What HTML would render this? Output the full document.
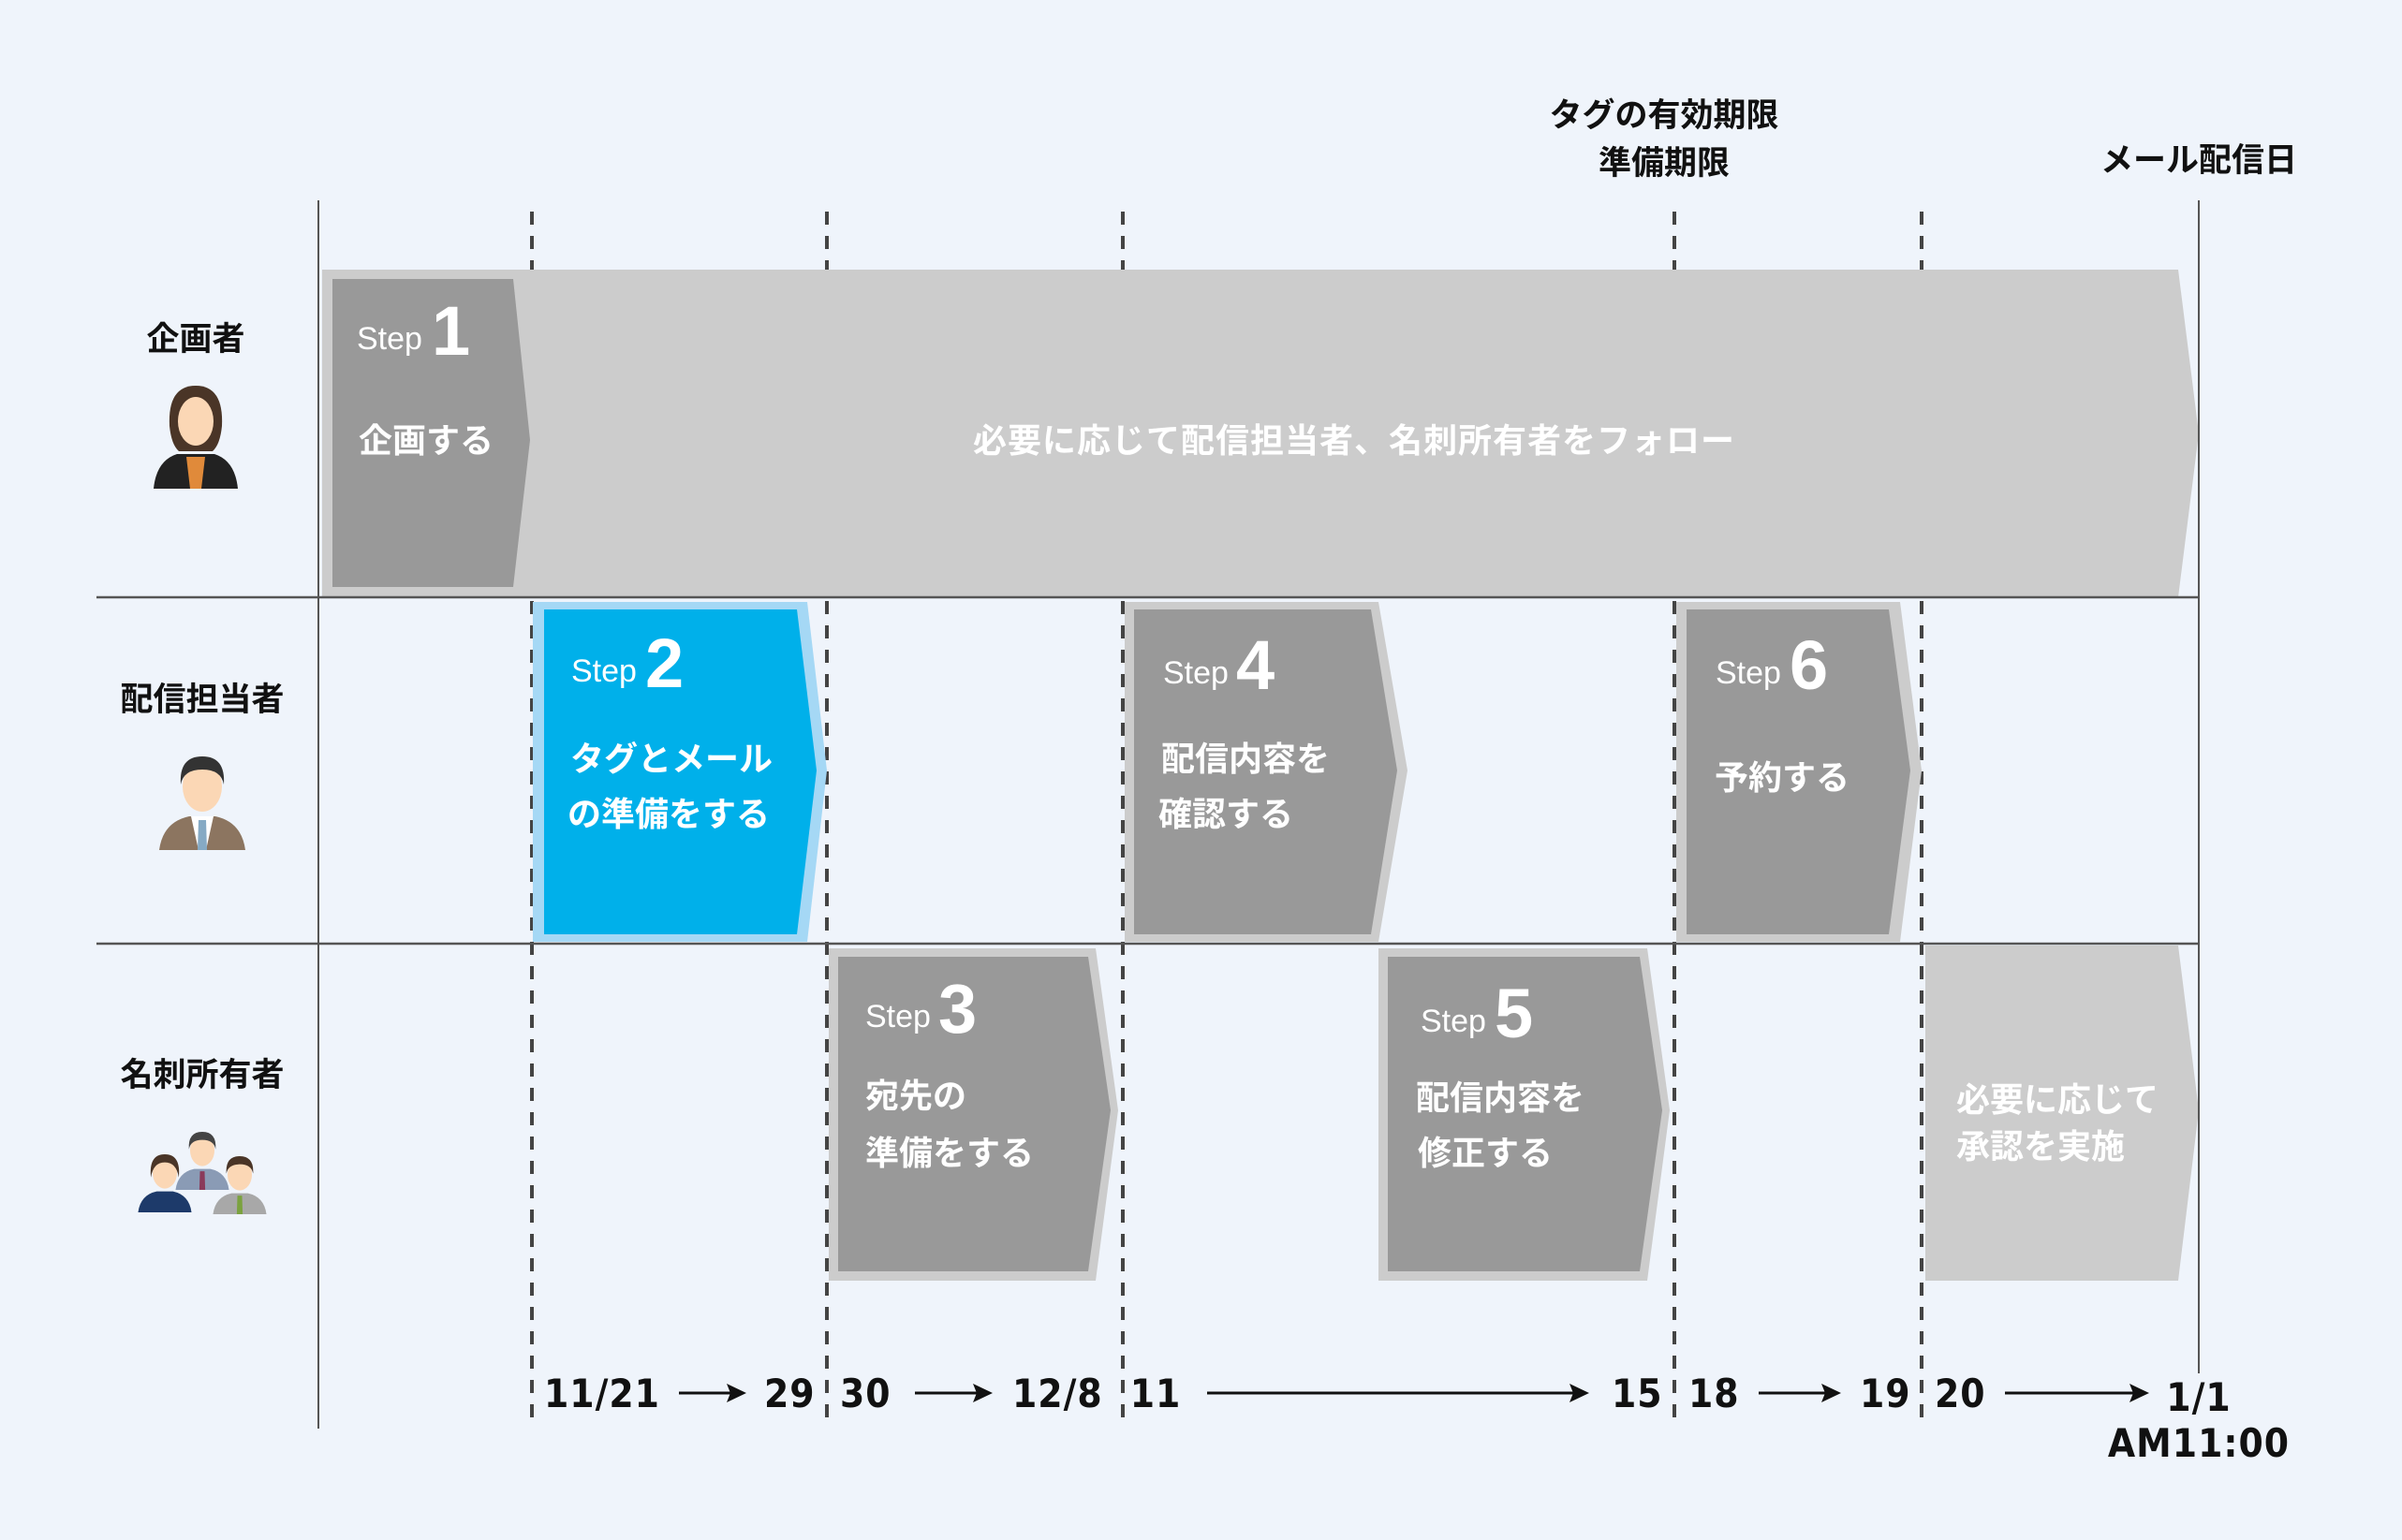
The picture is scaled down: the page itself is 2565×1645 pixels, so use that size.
<!DOCTYPE html>
<html><head><meta charset="utf-8">
<style>
html,body{margin:0;padding:0;background:#eff4fb;}
svg{display:block;}
.jp{font-family:"Liberation Sans","Noto Sans CJK JP",sans-serif;font-weight:bold;}
.w{fill:#fff;}
.st{font-family:"Liberation Sans",sans-serif;font-weight:normal;font-size:34px;fill:#fff;}
.num{font-family:"Liberation Sans",sans-serif;font-weight:bold;font-size:74px;fill:#fff;}
.dt{font-family:"DejaVu Sans Condensed","DejaVu Sans","Liberation Sans",sans-serif;font-weight:bold;font-size:42px;fill:#111;letter-spacing:1px;}
</style></head><body>
<svg width="2565" height="1645" viewBox="0 0 2565 1645" xmlns="http://www.w3.org/2000/svg">
<rect width="2565" height="1645" fill="#eff4fb"/>

<!-- dashed lines (behind shapes) -->
<g stroke="#444" stroke-width="4" stroke-dasharray="14,12">
<line x1="568" y1="226" x2="568" y2="1526"/>
<line x1="883" y1="226" x2="883" y2="1526"/>
<line x1="1199" y1="226" x2="1199" y2="1526"/>
<line x1="1788" y1="226" x2="1788" y2="1526"/>
<line x1="2052" y1="226" x2="2052" y2="1526"/>
</g>

<!-- row1 big arrow -->
<polygon points="344,288 2326,288 2348,463 2326,638 344,638" fill="#cccccc"/>
<polygon points="355,298 548,298 566,470 548,627 355,627" fill="#999999"/>
<text x="381" y="373" class="st">Step</text><text x="461" y="379" class="num">1</text>
<text x="383" y="483" class="jp w" font-size="36">企画する</text>
<text x="1446" y="483" class="jp w" font-size="36" text-anchor="middle" letter-spacing="1">必要に応じて配信担当者、名刺所有者をフォロー</text>

<!-- Step2 -->
<polygon points="569,643 862,643 883,823 862,1006 569,1006" fill="#a5d8f5"/>
<polygon points="581,651 851,651 872,823 851,998 581,998" fill="#00b0ea"/>
<text x="610" y="728" class="st">Step</text><text x="689" y="734" class="num">2</text>
<text x="609" y="823" class="jp w" font-size="36">タグとメール</text>
<text x="606" y="882" class="jp w" font-size="36">の準備をする</text>

<!-- Step4 -->
<polygon points="1201,643 1472,643 1503,823 1472,1006 1201,1006" fill="#cccccc"/>
<polygon points="1211,651 1464,651 1492,823 1464,998 1211,998" fill="#999999"/>
<text x="1242" y="730" class="st">Step</text><text x="1320" y="736" class="num">4</text>
<text x="1240" y="823" class="jp w" font-size="36">配信内容を</text>
<text x="1237" y="882" class="jp w" font-size="36">確認する</text>

<!-- Step6 -->
<polygon points="1790,643 2029,643 2052,823 2029,1006 1790,1006" fill="#cccccc"/>
<polygon points="1801,651 2017,651 2040,823 2017,998 1801,998" fill="#999999"/>
<text x="1832" y="730" class="st">Step</text><text x="1911" y="736" class="num">6</text>
<text x="1831" y="843" class="jp w" font-size="36">予約する</text>

<!-- Step3 -->
<polygon points="885,1013 1170,1013 1194,1186 1170,1368 885,1368" fill="#cccccc"/>
<polygon points="895,1022 1162,1022 1186,1186 1162,1358 895,1358" fill="#999999"/>
<text x="924" y="1097" class="st">Step</text><text x="1002" y="1103" class="num">3</text>
<text x="924" y="1183" class="jp w" font-size="36">宛先の</text>
<text x="924" y="1244" class="jp w" font-size="36">準備をする</text>

<!-- Step5 -->
<polygon points="1472,1013 1759,1013 1783,1186 1759,1368 1472,1368" fill="#cccccc"/>
<polygon points="1482,1022 1751,1022 1775,1186 1751,1358 1482,1358" fill="#999999"/>
<text x="1517" y="1102" class="st">Step</text><text x="1596" y="1108" class="num">5</text>
<text x="1512" y="1185" class="jp w" font-size="36">配信内容を</text>
<text x="1514" y="1244" class="jp w" font-size="36">修正する</text>

<!-- final -->
<polygon points="2056,1010 2326,1010 2348,1186 2326,1368 2056,1368" fill="#cccccc"/>
<text x="2089" y="1187" class="jp w" font-size="36">必要に応じて</text>
<text x="2089" y="1237" class="jp w" font-size="36">承認を実施</text>

<!-- grid lines -->
<line x1="340" y1="214" x2="340" y2="1526" stroke="#555" stroke-width="2"/>
<line x1="2348" y1="214" x2="2348" y2="1467" stroke="#555" stroke-width="2"/>
<line x1="103" y1="638" x2="2348" y2="638" stroke="#555" stroke-width="2.5"/>
<line x1="103" y1="1008" x2="2348" y2="1008" stroke="#555" stroke-width="2.5"/>

<!-- headers -->
<text x="1777" y="135" class="jp" font-size="35" text-anchor="middle" fill="#111">タグの有効期限</text>
<text x="1777" y="186" class="jp" font-size="35" text-anchor="middle" fill="#111">準備期限</text>
<text x="2348" y="183" class="jp" font-size="35" text-anchor="middle" fill="#111">メール配信日</text>

<!-- lane labels -->
<text x="209" y="374" class="jp" font-size="35" text-anchor="middle" fill="#111">企画者</text>
<text x="216" y="759" class="jp" font-size="35" text-anchor="middle" fill="#111">配信担当者</text>
<text x="216" y="1160" class="jp" font-size="35" text-anchor="middle" fill="#111">名刺所有者</text>

<!-- woman icon -->
<g transform="translate(209,470)">
<path d="M-45,52 Q-42,22 -20,15 L20,15 Q42,22 45,52 Z" fill="#222"/>
<path d="M-10,18 L10,18 L6,52 L-6,52 Z" fill="#e08a3a"/>
<path d="M-28,-15 Q-30,-58 0,-58 Q30,-58 28,-15 Q26,5 18,12 L-18,12 Q-26,5 -28,-15Z" fill="#4a3527"/>
<ellipse cx="0" cy="-20" rx="19" ry="26" fill="#fbd7b5"/>
</g>
<!-- man icon -->
<g transform="translate(216,858)">
<path d="M-46,50 Q-42,20 -14,14 L14,14 Q42,20 46,50 Z" fill="#8c7560"/>
<path d="M-12,14 L12,14 L4,50 L-4,50 Z" fill="#fff"/>
<path d="M-4,18 L4,18 L5,50 L-5,50Z" fill="#86aac4"/>
<ellipse cx="0" cy="-18" rx="21" ry="27" fill="#fbd7b5"/>
<path d="M-23,-20 Q-25,-50 0,-50 Q25,-50 23,-20 Q20,-36 0,-36 Q-20,-36 -23,-20Z" fill="#333"/>
</g>
<!-- group icon -->
<g transform="translate(216,1250)">
<g transform="translate(0,-10) scale(0.62)">
<path d="M-46,50 Q-42,20 -14,14 L14,14 Q42,20 46,50 Z" fill="#8a9bb5"/>
<path d="M-4,18 L4,18 L5,50 L-5,50Z" fill="#8a3a5a"/>
<ellipse cx="0" cy="-18" rx="21" ry="27" fill="#fbd7b5"/>
<path d="M-23,-20 Q-25,-50 0,-50 Q25,-50 23,-20 Q20,-36 0,-36 Q-20,-36 -23,-20Z" fill="#444"/>
</g>
<g transform="translate(-40,14) scale(0.62)">
<path d="M-46,50 Q-42,20 -14,14 L14,14 Q42,20 46,50 Z" fill="#1d3a6a"/>
<ellipse cx="0" cy="-18" rx="21" ry="27" fill="#fbd7b5"/>
<path d="M-24,-10 Q-28,-50 0,-50 Q28,-50 24,-10 Q20,-36 0,-36 Q-20,-36 -24,-10Z" fill="#4a3527"/>
</g>
<g transform="translate(40,16) scale(0.62)">
<path d="M-46,50 Q-42,20 -14,14 L14,14 Q42,20 46,50 Z" fill="#a8a8a8"/>
<path d="M-4,18 L4,18 L5,50 L-5,50Z" fill="#7ba23f"/>
<ellipse cx="0" cy="-18" rx="21" ry="27" fill="#fbd7b5"/>
<path d="M-23,-20 Q-25,-50 0,-50 Q25,-50 23,-20 Q20,-36 0,-36 Q-20,-36 -23,-20Z" fill="#4a3527"/>
</g>
</g>

<!-- dates -->
<text x="581" y="1503" class="dt">11/21</text>
<text x="816" y="1503" class="dt">29</text>
<text x="897" y="1503" class="dt">30</text>
<text x="1081" y="1503" class="dt">12/8</text>
<text x="1234" y="1503" class="dt" text-anchor="middle">11</text>
<text x="1721" y="1503" class="dt">15</text>
<text x="1803" y="1503" class="dt">18</text>
<text x="1986" y="1503" class="dt">19</text>
<text x="2066" y="1503" class="dt">20</text>
<text x="2348" y="1507" class="dt" text-anchor="middle">1/1</text>
<text x="2348" y="1556" class="dt" text-anchor="middle">AM11:00</text>
<g stroke="#111" stroke-width="3">
<line x1="725" y1="1488" x2="785" y2="1488"/>
<line x1="977" y1="1488" x2="1048" y2="1488"/>
<line x1="1289" y1="1488" x2="1685" y2="1488"/>
<line x1="1878" y1="1488" x2="1955" y2="1488"/>
<line x1="2141" y1="1488" x2="2283" y2="1488"/>
</g>
<g fill="#111">
<polygon points="797,1488 776,1478 780,1488 776,1498"/>
<polygon points="1060,1488 1039,1478 1043,1488 1039,1498"/>
<polygon points="1697,1488 1676,1478 1680,1488 1676,1498"/>
<polygon points="1966,1488 1945,1478 1949,1488 1945,1498"/>
<polygon points="2295,1488 2274,1478 2278,1488 2274,1498"/>
</g>
</svg>
</body></html>
